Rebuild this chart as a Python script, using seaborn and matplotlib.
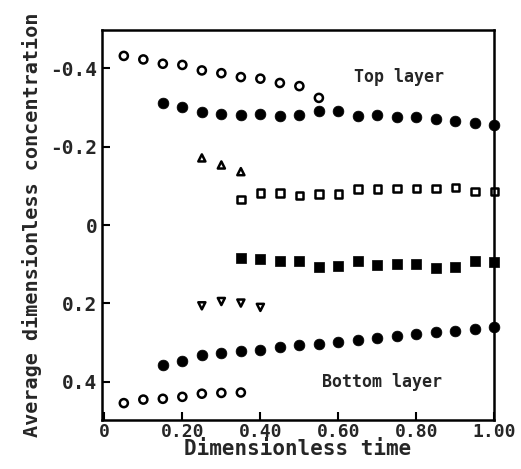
import pandas as pd
import matplotlib
matplotlib.use('Agg')
import matplotlib.pyplot as plt
import seaborn as sns

# series (y axis is inverted: negative = top layer)
t_open_top = [0.05, 0.10, 0.15, 0.20, 0.25, 0.30, 0.35, 0.40, 0.45, 0.50, 0.55]
c_open_top = [-0.431, -0.422, -0.411, -0.408, -0.394, -0.387, -0.377, -0.373, -0.362, -0.354, -0.324]

t_full = [0.15, 0.20, 0.25, 0.30, 0.35, 0.40, 0.45, 0.50, 0.55, 0.60,
          0.65, 0.70, 0.75, 0.80, 0.85, 0.90, 0.95, 1.00]
c_full_top = [-0.312, -0.301, -0.288, -0.282, -0.280, -0.282, -0.277, -0.280, -0.291, -0.291,
              -0.278, -0.280, -0.276, -0.276, -0.270, -0.266, -0.260, -0.254]
c_full_bot = [0.356, 0.346, 0.331, 0.326, 0.320, 0.318, 0.312, 0.307, 0.303, 0.297,
              0.293, 0.287, 0.282, 0.277, 0.273, 0.269, 0.265, 0.260]

t_tri_up = [0.25, 0.30, 0.35]
c_tri_up = [-0.171, -0.153, -0.136]

t_sq = [0.35, 0.40, 0.45, 0.50, 0.55, 0.60, 0.65, 0.70, 0.75, 0.80, 0.85, 0.90, 0.95, 1.00]
c_sq_open = [-0.065, -0.081, -0.082, -0.075, -0.079, -0.079, -0.091, -0.091,
             -0.093, -0.093, -0.093, -0.096, -0.085, -0.085]
c_sq_full = [0.085, 0.087, 0.093, 0.093, 0.108, 0.104, 0.091, 0.102,
             0.099, 0.099, 0.109, 0.106, 0.093, 0.095]

t_tri_dn = [0.25, 0.30, 0.35, 0.40]
c_tri_dn = [0.206, 0.195, 0.199, 0.210]

t_open_bot = [0.05, 0.10, 0.15, 0.20, 0.25, 0.30, 0.35]
c_open_bot = [0.454, 0.445, 0.443, 0.438, 0.430, 0.428, 0.427]

x_ticks = [0, 0.2, 0.4, 0.6, 0.8, 1.0]
x_labels = ['0', '0.20', '0.40', '0.60', '0.80', '1.00']
y_ticks = [-0.4, -0.2, 0, 0.2, 0.4]
y_labels = ['-0.4', '-0.2', '0', '0.2', '0.4']

sns.set_style('ticks')
plt.rcParams['font.family'] = ['DejaVu Sans Mono', 'DejaVu Sans']

fig = plt.figure(figsize=(5.21, 4.69), dpi=100)
ax = fig.add_axes([0.195, 0.1045, 0.754, 0.8315])

def draw(t, c, marker, s, filled):
    if filled:
        sns.scatterplot(x=t, y=c, marker=marker, s=s, color='black', ec='black',
                        lw=0.5, ax=ax, clip_on=False, zorder=3)
    else:
        sns.scatterplot(x=t, y=c, marker=marker, s=s, fc='none', ec='black',
                        lw=1.8, ax=ax, clip_on=False, zorder=3)

draw(t_open_top, c_open_top, 'o', 34, False)
draw(t_full, c_full_top, 'o', 60, True)
draw(t_tri_up, c_tri_up, '^', 26, False)
draw(t_sq, c_sq_open, 's', 30, False)
draw(t_sq, c_sq_full, 's', 50, True)
draw(t_tri_dn, c_tri_dn, 'v', 26, False)
draw(t_full, c_full_bot, 'o', 60, True)
draw(t_open_bot, c_open_bot, 'o', 34, False)

ax.text(0.755, -0.378, 'Top layer', fontsize=12, fontweight='bold', ha='center', va='center')
ax.text(0.712, 0.399, 'Bottom layer', fontsize=12, fontweight='bold', ha='center', va='center')

ax.set_xlim(-0.007, 1.0)
ax.set_ylim(0.497, -0.497)
ax.set_xticks(x_ticks)
ax.set_xticklabels(x_labels, fontweight='bold')
ax.set_yticks(y_ticks)
ax.set_yticklabels(y_labels, fontweight='bold')
ax.tick_params(direction='in', length=6, width=1.5, labelsize=13, pad=2, color='black')
ax.tick_params(axis='y', pad=3, labelsize=14)
for sp in ax.spines.values():
    sp.set_visible(True)
    sp.set_linewidth(1.8)
    sp.set_color('black')

ax.set_xlabel('Dimensionless time', fontsize=15, fontweight='bold', labelpad=-1)
ax.set_ylabel('Average dimensionless concentration', fontsize=14.5, fontweight='bold', labelpad=6)

plt.savefig('out.png', dpi=100)
